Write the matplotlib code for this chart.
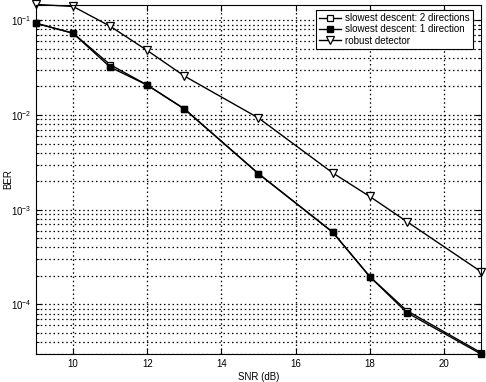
import matplotlib
matplotlib.use("Agg")
import matplotlib.pyplot as plt
from matplotlib.ticker import LogLocator, NullFormatter

plt.rcParams['font.family'] = ['Liberation Sans', 'DejaVu Sans']
plt.rcParams['mathtext.fontset'] = 'custom'
plt.rcParams['mathtext.rm'] = 'Liberation Sans'

snr = [9, 10, 11, 12, 13, 15, 17, 18, 19, 21]
ber_2dir = [0.093, 0.073, 0.034, 0.0207, 0.0116, 0.0024, 5.8e-4, 1.97e-4, 8.6e-5, 3.1e-5]
ber_1dir = [0.093, 0.073, 0.032, 0.0207, 0.0116, 0.0024, 5.8e-4, 1.97e-4, 8.2e-5, 3.0e-5]
ber_robust = [0.147, 0.140, 0.0865, 0.048, 0.0258, 0.0093, 0.00245, 0.00138, 7.5e-4, 2.22e-4]
labels = ['slowest descent: 2 directions', 'slowest descent: 1 direction', 'robust detector']

fig = plt.figure(figsize=(4.86, 3.82), dpi=100)
ax = fig.add_axes([36/486, 28/382, 445/486, 349/382])

l1, = ax.semilogy(snr, ber_2dir, '-s', color='black', lw=1.0, ms=5, mfc='white', mec='black', mew=0.9, label=labels[0])
l2, = ax.semilogy(snr, ber_1dir, '-s', color='black', lw=1.0, ms=4.5, mfc='black', mec='black', label=labels[1])
l3, = ax.semilogy(snr, ber_robust, '-v', color='black', lw=1.0, ms=6, mfc='white', mec='black', mew=0.9, label=labels[2])
for ln in (l1, l2, l3):
    ln.set_clip_on(False)

ax.set_xlim(9, 21)
ax.set_ylim(3e-5, 0.145)
ax.set_xticks([10, 12, 14, 16, 18, 20])
ax.yaxis.set_major_locator(LogLocator(base=10, numticks=10))
ax.yaxis.set_minor_locator(LogLocator(base=10, subs=range(2, 10), numticks=20))
ax.yaxis.set_minor_formatter(NullFormatter())

grid_kw = dict(linestyle=(0, (1.2, 2.2)), color='black', lw=0.9)
ax.grid(True, which='major', axis='both', **grid_kw)
ax.grid(True, which='minor', axis='y', **grid_kw)

ax.tick_params(which='both', direction='in', top=True, right=True, labelsize=7)
ax.tick_params(which='major', length=4)
ax.tick_params(which='minor', length=2)
for s in ax.spines.values():
    s.set_linewidth(0.8)
    s.set_zorder(5)

ax.set_xlabel('SNR (dB)', fontsize=7, labelpad=2)
ax.set_ylabel('BER', fontsize=7)
ax.yaxis.set_label_coords(-0.05, 0.5)

leg = ax.legend(loc='upper right', bbox_to_anchor=(473/486, 1 - 10/382), bbox_transform=fig.transFigure,
                fontsize=7, frameon=True, fancybox=False, framealpha=1, edgecolor='black',
                borderpad=0.3, labelspacing=0.15, handlelength=2.2, handletextpad=0.5, borderaxespad=0)
leg.get_frame().set_linewidth(0.8)
leg.set_zorder(10)

fig.savefig('out.png', dpi=100)
